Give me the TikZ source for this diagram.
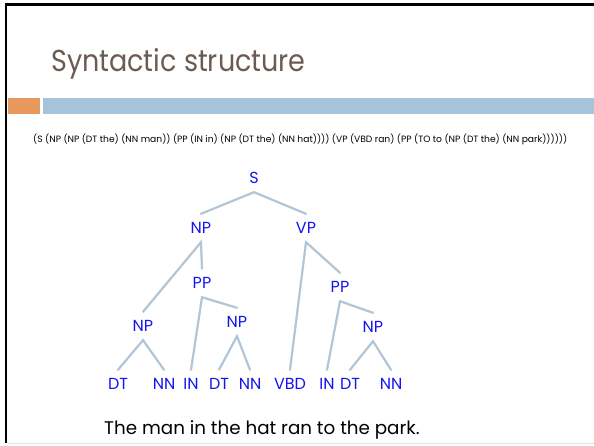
\documentclass[tikz,border=0pt]{standalone}
\usepackage{fontspec}
\usepackage{graphicx}
\setmainfont{Poppins}
\definecolor{titlecol}{RGB}{107,91,84}
\definecolor{barorange}{RGB}{232,152,92}
\definecolor{barblue}{RGB}{166,195,219}
\definecolor{lblblue}{RGB}{20,20,240}
\definecolor{branchcol}{RGB}{172,198,220}
\tikzset{
  lbl/.style={text=lblblue, font=\fontsize{16}{16}\selectfont, inner sep=0pt, text height=11pt, text depth=0pt, minimum height=28pt},
  branch/.style={draw=branchcol, line width=1.6pt, line cap=round, preaction={draw=black!20, line width=2.2pt, line cap=round}}
}
\begin{document}
\begin{tikzpicture}[x=1pt,y=-1pt]
\useasboundingbox (0,0) rectangle (594,446);
\fill[white] (0,0) rectangle (594,446);
% frame
\draw[black, line width=2.5pt] (6,3) -- (6,443);
\draw[black, line width=2.5pt] (4.75,4.5) -- (594,4.5);
\draw[black!12, line width=1pt] (7,443.5) -- (594,443.5);
% title
\node[anchor=base west, inner sep=0pt, text=titlecol, font=\fontsize{27}{27}\selectfont] (title) at (51,72) {\scalebox{1}[1.12]{Syntactic structure}};
% bars
\fill[barorange] (7.5,98) rectangle (40,114);
\fill[barblue] (43,98) rectangle (594,114);
% bracket string
\node[anchor=west, inner sep=0pt, font=\fontsize{6}{6}\selectfont] (bracket) at (33,139) {\resizebox{534pt}{!}{(S (NP (NP (DT the) (NN man)) (PP (IN in) (NP (DT the) (NN hat)))) (VP (VBD ran) (PP (TO to (NP (DT the) (NN park))))))}};
% tree labels
\node[lbl] (S) at (254,178) {S};
\node[lbl] (NPa) at (201,228) {NP};
\node[lbl] (VP) at (306,228) {VP};
\node[lbl] (PPa) at (202,283) {PP};
\node[lbl] (PPb) at (340,287) {PP};
\node[lbl] (NPb) at (143,326) {NP};
\node[lbl] (NPc) at (237,322) {NP};
\node[lbl] (NPd) at (373,327) {NP};
\node[lbl] (DTa) at (118,384) {DT};
\node[lbl] (NNa) at (164,384) {NN};
\node[lbl] (INa) at (191,384) {IN};
\node[lbl] (DTb) at (219,384) {DT};
\node[lbl] (NNb) at (250,384) {NN};
\node[lbl] (VBD) at (290,384) {VBD};
\node[lbl] (INb) at (327,384) {IN};
\node[lbl] (DTc) at (350,384) {DT};
\node[lbl] (NNc) at (391,384) {NN};
% branches
\draw[branch] (NPa.north) -- (S.south) -- (VP.north);
\draw[branch] (NPb.north) -- (NPa.south) -- (PPa.north);
\draw[branch] (VBD.north) -- (VP.south) -- (PPb.north);
\draw[branch] (INa.north) -- (PPa.south) -- (NPc.north);
\draw[branch] (INb.north) -- (PPb.south) -- (NPd.north);
\draw[branch] (DTa.north) -- (NPb.south) -- (NNa.north);
\draw[branch] (DTb.north) -- (NPc.south) -- (NNb.north);
\draw[branch] (DTc.north) -- (NPd.south) -- (NNc.north);
% sentence
\node[anchor=base west, inner sep=0pt, font=\fontsize{18.3}{18.3}\selectfont] (sent) at (104,434) {The man in the hat ran to the park.};
\end{tikzpicture}
\end{document}
